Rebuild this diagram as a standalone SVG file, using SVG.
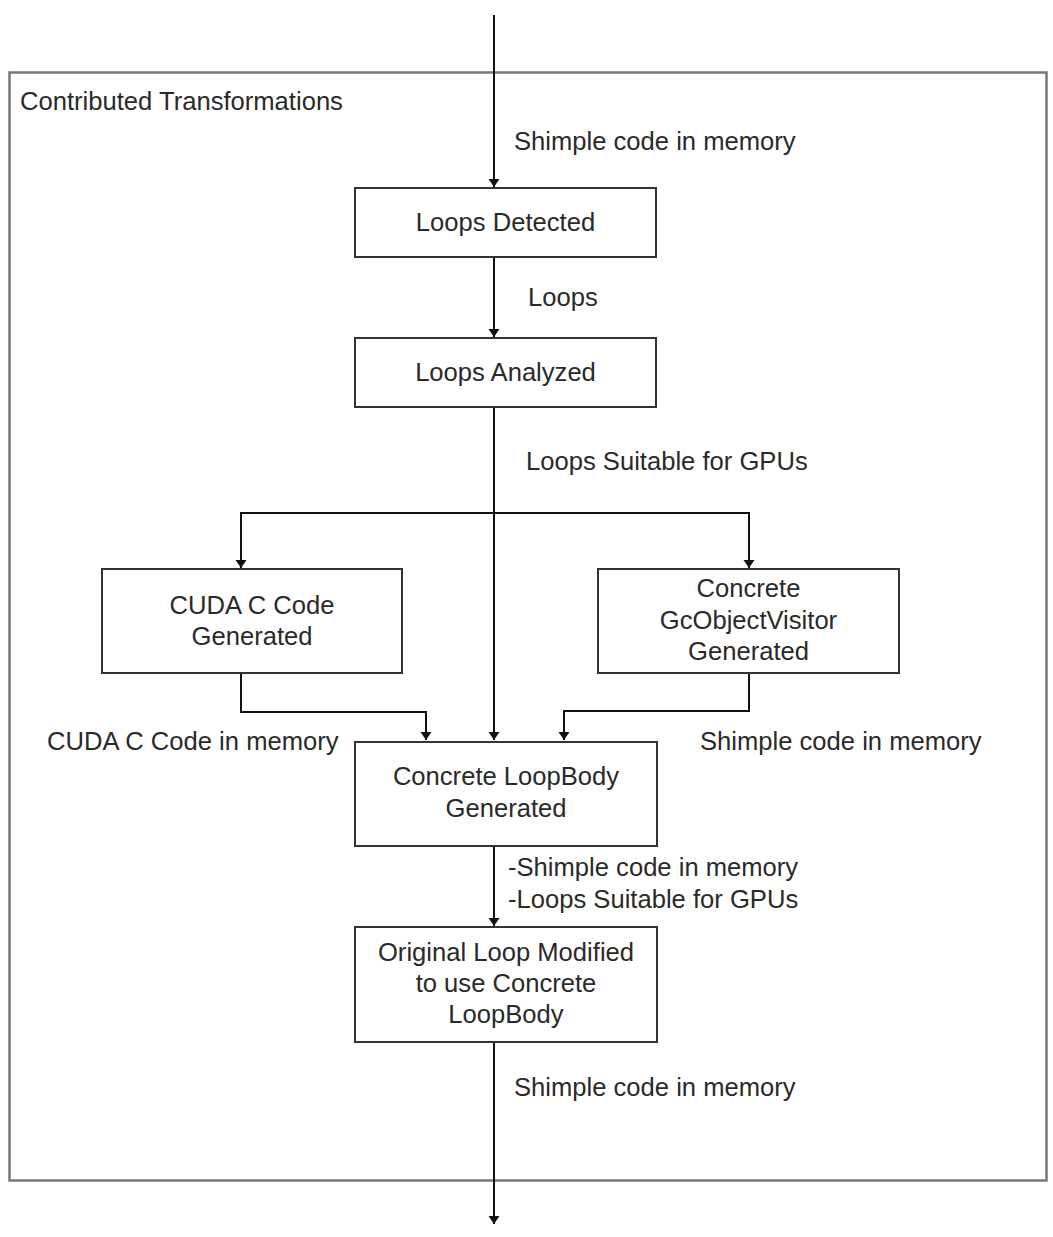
<svg xmlns="http://www.w3.org/2000/svg" width="1053" height="1237" viewBox="0 0 1053 1237">
<defs>
<marker id="ah" markerWidth="12" markerHeight="12" refX="8" refY="5.5" orient="auto" markerUnits="userSpaceOnUse">
<path d="M0,0 L8,5.5 L0,11 Z" fill="#111"/>
</marker>
<style>
text{font-family:"Liberation Sans",Arial,sans-serif;font-size:25.6px;fill:#2a2a2a}
.c{text-anchor:middle}
.box{fill:#fff;stroke:#333;stroke-width:2}
.frame{fill:none;stroke:#777;stroke-width:2.5}
.conn{fill:none;stroke:#111;stroke-width:2}
</style>
</defs>
<rect width="1053" height="1237" fill="#fff"/>
<g id="frame">
<rect class="frame" x="9.5" y="72.5" width="1037" height="1108"/>
<text x="20" y="110">Contributed Transformations</text>
</g>
<g id="connectors">
<path class="conn" d="M494,15 V187" marker-end="url(#ah)"/>
<path class="conn" d="M494,257 V337" marker-end="url(#ah)"/>
<path class="conn" d="M494,407 V740" marker-end="url(#ah)"/>
<path class="conn" d="M494,513 H241 V568" marker-end="url(#ah)"/>
<path class="conn" d="M494,513 H749 V568" marker-end="url(#ah)"/>
<path class="conn" d="M241,673 V712 H426 V740" marker-end="url(#ah)"/>
<path class="conn" d="M749,673 V711 H564 V740" marker-end="url(#ah)"/>
<path class="conn" d="M494,846 V926" marker-end="url(#ah)"/>
<path class="conn" d="M494,1042 V1224" marker-end="url(#ah)"/>
<text x="514" y="150">Shimple code in memory</text>
<text x="528" y="306">Loops</text>
<text x="526" y="470">Loops Suitable for GPUs</text>
<text x="47" y="750">CUDA C Code in memory</text>
<text x="700" y="750">Shimple code in memory</text>
<text x="508" y="876">-Shimple code in memory</text>
<text x="508" y="908">-Loops Suitable for GPUs</text>
<text x="514" y="1096">Shimple code in memory</text>
</g>
<g id="loops-detected">
<rect class="box" x="355" y="188" width="301" height="69"/>
<text class="c" x="505.5" y="231">Loops Detected</text>
</g>
<g id="loops-analyzed">
<rect class="box" x="355" y="338" width="301" height="69"/>
<text class="c" x="505.5" y="381">Loops Analyzed</text>
</g>
<g id="cuda-generated">
<rect class="box" x="102" y="569" width="300" height="104"/>
<text class="c" x="252" y="614">CUDA C Code</text>
<text class="c" x="252" y="645">Generated</text>
</g>
<g id="visitor-generated">
<rect class="box" x="598" y="569" width="301" height="104"/>
<text class="c" x="748.5" y="597">Concrete</text>
<text class="c" x="748.5" y="629">GcObjectVisitor</text>
<text class="c" x="748.5" y="660">Generated</text>
</g>
<g id="loopbody-generated">
<rect class="box" x="355" y="742" width="302" height="104"/>
<text class="c" x="506" y="785">Concrete LoopBody</text>
<text class="c" x="506" y="817">Generated</text>
</g>
<g id="original-modified">
<rect class="box" x="355" y="927" width="302" height="115"/>
<text class="c" x="506" y="961">Original Loop Modified</text>
<text class="c" x="506" y="992">to use Concrete</text>
<text class="c" x="506" y="1023">LoopBody</text>
</g>
</svg>
